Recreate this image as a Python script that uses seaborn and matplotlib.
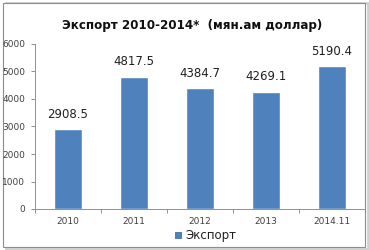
import matplotlib
matplotlib.use("Agg")
import matplotlib.pyplot as plt
import seaborn as sns
import pandas as pd
from matplotlib.patches import Rectangle

categories = ["2010", "2011", "2012", "2013", "2014.11"]
values = [2908.5, 4817.5, 4384.7, 4269.1, 5190.4]
value_labels = ["2908.5", "4817.5", "4384.7", "4269.1", "5190.4"]
series_name = "Экспорт"
title = "Экспорт 2010-2014*  (мян.ам доллар)"
yticks = [0, 1000, 2000, 3000, 4000, 5000, 6000]

sns.set_theme(style="white")
plt.rcParams['font.family'] = ['DejaVu Sans']

df = pd.DataFrame({"year": categories, "value": values, "series": series_name})

fig = plt.figure(figsize=(3.69, 2.5), dpi=100)
fig.patch.set_facecolor("white")
# chart frame
fig.add_artist(Rectangle((6/369, 1/250), 362/369, 246/250, transform=fig.transFigure,
                         facecolor="none", edgecolor="#d0d0d0", lw=2.0, zorder=-2))
fig.add_artist(Rectangle((3/369, 3/250), 362/369, 244/250, transform=fig.transFigure,
                         facecolor="white", edgecolor="#8c8c8c", lw=0.8, zorder=-1))

ax = fig.add_axes([35/369, 1 - 209/250, 330/369, 165/250])
ax.set_facecolor("none")
sns.barplot(data=df, x="year", y="value", hue="series", palette=["#4F81BD"],
            width=0.41, ax=ax, saturation=1, legend=False)

ax.set_ylim(0, 6000)
ax.set_xlim(-0.5, 4.5)
ax.set_yticks(yticks)
ax.set_yticklabels([str(t) for t in yticks], fontsize=6.5, color="#404040")
ax.tick_params(axis="y", which="major", length=3, width=0.6, color="#808080", direction="out", left=True, pad=4)
ax.tick_params(axis="x", which="major", length=0, labelsize=6.5, labelcolor="#404040", pad=6)
ax.set_xticks(range(len(categories)))
ax.set_xticks([i - 0.5 for i in range(len(categories) + 1)], minor=True)
ax.tick_params(axis="x", which="minor", length=3, width=0.6, color="#808080", bottom=True)
ax.set_xlabel("")
ax.set_ylabel("")
for s in ["top", "right"]:
    ax.spines[s].set_visible(False)
for s in ["left", "bottom"]:
    ax.spines[s].set_color("#909090")
    ax.spines[s].set_linewidth(0.7)

ax.bar_label(ax.containers[0], labels=value_labels, padding=6, fontsize=8.5, color="#202020")

fig.text(0.52, 1 - 25/250, title, ha="center", va="center", fontsize=8.6, fontweight="bold", color="#101010")

fig.add_artist(Rectangle((175/369, 1 - 239/250), 7/369, 7/250, transform=fig.transFigure,
                         facecolor="#4F81BD", edgecolor="none"))
fig.text(185/369, 1 - 235.5/250, series_name, ha="left", va="center", fontsize=8.5, color="#202020")

fig.savefig("out.png", dpi=100)
